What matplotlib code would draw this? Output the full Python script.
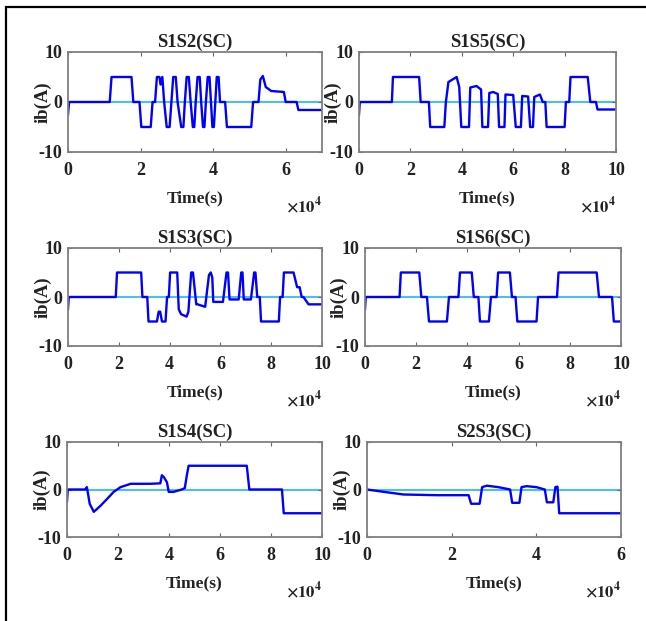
import matplotlib
matplotlib.use("Agg")
from matplotlib import pyplot as plt
from matplotlib.patches import Rectangle

# time values are in units of 1e4 s, current in A
titles = ["S1S2(SC)", "S1S5(SC)", "S1S3(SC)", "S1S6(SC)", "S1S4(SC)", "S2S3(SC)"]
x_max = [7, 10, 10, 10, 10, 6]

t_s1s2 = [0, 0.03, 1.15, 1.2, 1.75, 1.8, 1.97, 2.02, 2.28, 2.33, 2.4, 2.45, 2.52, 2.55, 2.6, 2.65,
          2.72, 2.8, 2.85, 2.9, 2.97, 3.02, 3.12, 3.18, 3.22, 3.27, 3.33, 3.38, 3.44, 3.48, 3.52,
          3.57, 3.63, 3.67, 3.72, 3.76, 3.8, 3.85, 3.9, 3.94, 3.98, 4.02, 4.06, 4.1, 4.15, 4.19,
          4.33, 4.38, 5.05, 5.1, 5.25, 5.3, 5.37, 5.45, 5.6, 5.95, 6.0, 6.3, 6.35, 7.0]
i_s1s2 = [-2.5, 0, 0, 5, 5, 0, 0, -5, -5, 0, 0, 5, 5, 3.5, 5, 0,
          -5, -5, 0, 5, 5, 0, -5, -5, 0, 5, 5, 0, -5, -5, 0,
          5, 5, 0, -5, -5, 0, 5, 5, 0, -5, -5, 0, 5, 5, 0,
          0, -5, -5, 0, 0, 4.5, 5.2, 3, 2.2, 2, 0, 0, -1.6, -1.6]

t_s1s5 = [0, 0.03, 1.28, 1.32, 2.34, 2.4, 2.72, 2.77, 3.32, 3.38, 3.48, 3.8, 3.9, 3.98, 4.28,
          4.33, 4.57, 4.75, 4.8, 5.02, 5.07, 5.22, 5.4, 5.45, 5.66, 5.7, 6.0, 6.1, 6.3, 6.35,
          6.58, 6.66, 6.77, 6.82, 7.04, 7.15, 7.25, 7.3, 8.0, 8.05, 8.18, 8.23, 8.9, 9.0, 9.22,
          9.28, 10.0]
i_s1s5 = [-2.5, 0, 0, 5, 5, 0, 0, -5, -5, 0, 4, 5, 3, -5, -5,
          2.9, 3.2, 2.5, -5, -5, 1.8, 2, 1.6, -5, -5, 1.5, 1.4, -5, -5, 1.2,
          1.1, -5, -5, 1, 1.5, 0, 0, -5, -5, 0, 0, 5, 5, 0, 0,
          -1.5, -1.5]

t_s1s3 = [0, 0.03, 1.88, 1.93, 2.88, 2.93, 3.12, 3.17, 3.5, 3.57, 3.63, 3.7, 3.84, 3.9, 3.97,
          4.02, 4.3, 4.36, 4.45, 4.67, 4.74, 4.85, 4.92, 5.05, 5.1, 5.4, 5.55, 5.62, 5.68, 5.72,
          6.1, 6.24, 6.3, 6.36, 6.4, 6.72, 6.82, 6.87, 6.92, 7.2, 7.33, 7.38, 7.45, 7.55, 7.6,
          8.3, 8.35, 8.45, 8.5, 8.88, 9.02, 9.12, 9.2, 9.27, 9.47, 9.55, 10.0]
i_s1s3 = [-2.5, 0, 0, 5, 5, 0, 0, -5, -5, -3, -3, -5, -5, 0, 0,
          5, 5, -2.5, -3.5, -4, -3, 5, 5, -1.5, -1.5, -2, 4.5, 5, 4, -1,
          -1, 5, 5, -0.5, -0.5, -0.5, 5, 5, -0.5, -0.5, 5, 5, 0, 0, -5,
          -5, 0, 0, 5, 5, 2, 2, 0, 0, -1.5, -1.5, -1.5]

t_s1s6 = [0, 0.03, 1.35, 1.4, 2.12, 2.2, 2.42, 2.5, 3.2, 3.28, 3.65, 3.71, 4.17, 4.25, 4.43,
          4.49, 4.84, 4.92, 5.14, 5.2, 5.66, 5.74, 5.88, 5.95, 6.7, 6.76, 7.5, 7.56, 9.05, 9.14,
          9.65, 9.72, 10.0]
i_s1s6 = [-2.5, 0, 0, 5, 5, 0, 0, -5, -5, 0, 0, 5, 5, 0, 0,
          -5, -5, 0, 0, 5, 5, 0, 0, -5, -5, 0, 0, 5, 5, 0,
          0, -5, -5]

t_s1s4 = [0, 0.03, 0.72, 0.78, 0.89, 1.05, 1.3, 1.57, 1.83, 2.1, 2.5, 3.27, 3.66, 3.72, 3.8,
          3.92, 3.99, 4.18, 4.5, 4.62, 4.7, 4.77, 7.05, 7.15, 8.43, 8.5, 10.0]
i_s1s4 = [-2.5, 0, 0, 0.5, -3, -4.7, -3.5, -2, -0.5, 0.5, 1.2, 1.2, 1.3, 3, 2.6,
          1.5, -0.5, -0.5, 0, 0.3, 3, 5, 5, 0, 0, -5, -5]

t_s2s3 = [0, 0.4, 0.86, 1.65, 2.4, 2.46, 2.66, 2.72, 2.83, 3.1, 3.38, 3.43, 3.6, 3.65, 3.77,
          4.0, 4.2, 4.25, 4.4, 4.45, 4.5, 4.54, 6.0]
i_s2s3 = [0, -0.5, -1.05, -1.2, -1.2, -3, -3, 0.5, 0.8, 0.5, 0, -2.8, -2.8, 0.5, 0.7,
          0.5, 0, -2.7, -2.7, 0.5, 0.6, -5, -5]

times = [t_s1s2, t_s1s5, t_s1s3, t_s1s6, t_s1s4, t_s2s3]
currents = [i_s1s2, i_s1s5, i_s1s3, i_s1s6, i_s1s4, i_s2s3]

W, H = 646, 621
# axes boxes in pixels: left, top, right, bottom
boxes = [(68, 52, 322, 152), (359, 52, 616, 152),
         (68, 248, 322, 346), (365, 248, 621, 346),
         (67, 442, 322, 537), (367, 442, 621, 537)]

serif = "Liberation Serif"
plt.rcParams["mathtext.fontset"] = "stix"
plt.rcParams["axes.unicode_minus"] = False

fig = plt.figure(figsize=(W / 100, H / 100), dpi=100)
fig.patches.append(Rectangle((6 / W, -0.05), 1.1, 1.05 - 7 / H, transform=fig.transFigure,
                             fill=False, edgecolor="black", linewidth=1.6, clip_on=False))

for k in range(6):
    l, t, r, b = boxes[k]
    ax = fig.add_axes([l / W, 1 - b / H, (r - l) / W, (b - t) / H])
    h_px = b - t
    ax.axhline(0, color="#4cbfee", linewidth=1.5, zorder=1)
    ax.plot(times[k], currents[k], color="#0000ff", linewidth=1.7, zorder=2)
    ax.set_xlim(0, x_max[k])
    ax.set_ylim(-10, 10)
    ax.set_xticks(range(0, x_max[k] + 1, 2))
    ax.set_yticks([-10, 0, 10])
    ax.tick_params(direction="in", top=True, right=True, length=3, width=0.8,
                   color="#666666", labelsize=13)
    ax.tick_params(axis="x", pad=7)
    ax.tick_params(axis="y", pad=4)
    for lab in ax.get_xticklabels() + ax.get_yticklabels():
        lab.set_fontfamily(serif)
        lab.set_fontweight("bold")
        lab.set_color("#222222")
    for sp in ax.spines.values():
        sp.set_color("#808080")
        sp.set_linewidth(1.3)
    ax.set_title(titles[k], fontfamily=serif, fontweight="bold", fontsize=13.5,
                 pad=4, color="#222222")
    ax.set_xlabel("Time(s)", fontfamily=serif, fontweight="bold", fontsize=12.5,
                  color="#222222")
    ax.xaxis.set_label_coords(0.5, -38 / h_px)
    ax.set_ylabel("ib(A)", fontfamily=serif, fontweight="bold", fontsize=13.5,
                  color="#222222", va="center")
    ax.yaxis.set_label_coords(-0.1, 0.5)
    ax.text(1.0, -54 / h_px, r"$\mathbf{\times 10^4}$", transform=ax.transAxes,
            ha="right", va="center", fontsize=12, color="#222222")

plt.savefig("out.png", dpi=100)
